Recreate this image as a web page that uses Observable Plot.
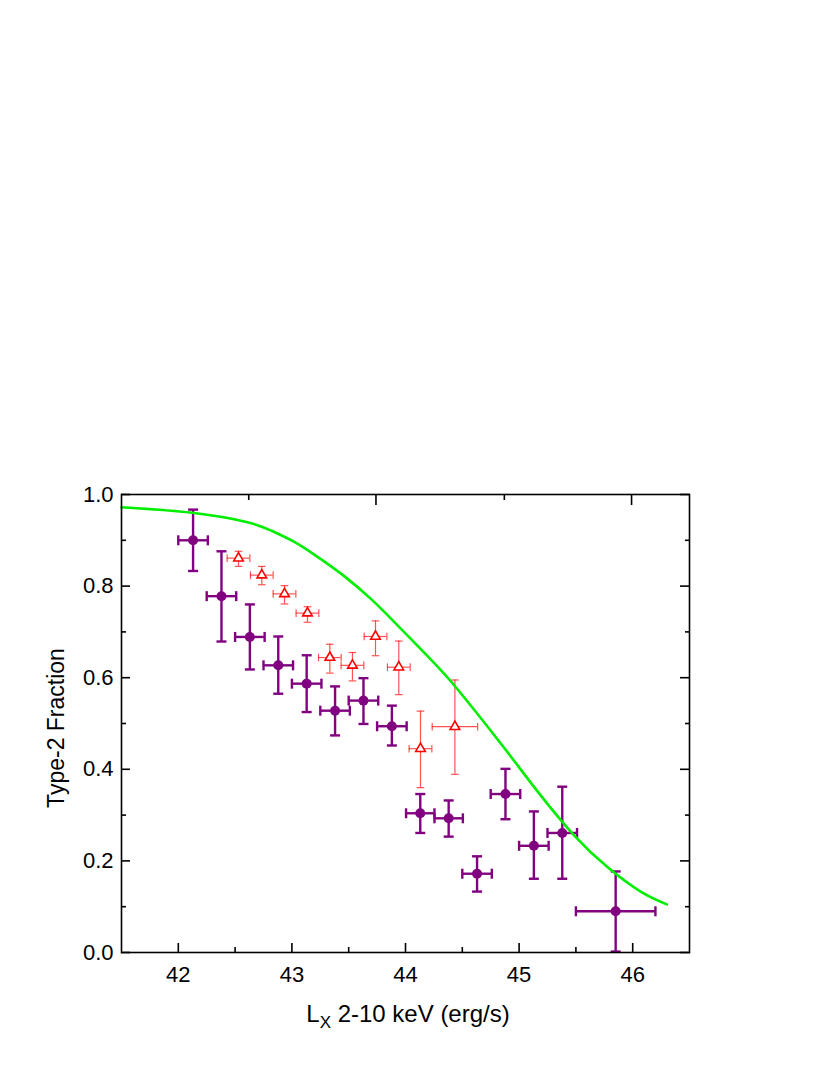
<!DOCTYPE html>
<html>
<head>
<meta charset="utf-8">
<script src="https://cdn.jsdelivr.net/npm/d3@7"></script>
<script src="https://cdn.jsdelivr.net/npm/@observablehq/plot@0.6"></script>
<style>
  html, body { margin: 0; padding: 0; background: #ffffff; }
  #chart svg { display: block; }
</style>
</head>
<body>
<div id="chart"></div>
<script>
// ---- Data ----
// Purple filled circles
const purpleX    = [42.13, 42.38, 42.63, 42.88, 43.13, 43.38, 43.63, 43.88, 44.13, 44.38, 44.63, 44.88, 45.13, 45.38, 45.85];
const purpleY    = [0.900, 0.778, 0.689, 0.627, 0.587, 0.528, 0.550, 0.494, 0.304, 0.293, 0.172, 0.346, 0.233, 0.261, 0.090];
const purpleYLo  = [0.833, 0.679, 0.618, 0.565, 0.525, 0.474, 0.499, 0.452, 0.261, 0.253, 0.133, 0.291, 0.161, 0.161, 0.002];
const purpleYHi  = [0.967, 0.876, 0.760, 0.690, 0.649, 0.581, 0.599, 0.539, 0.346, 0.332, 0.210, 0.401, 0.308, 0.362, 0.177];
const purpleXErr = [0.13, 0.13, 0.13, 0.13, 0.13, 0.13, 0.13, 0.13, 0.125, 0.125, 0.13, 0.13, 0.13, 0.13, 0.35];

// Red open triangles
const redX    = [42.53, 42.735, 42.935, 43.137, 43.334, 43.533, 43.736, 43.941, 44.132, 44.435];
const redY    = [0.861, 0.824, 0.783, 0.741, 0.644, 0.627, 0.690, 0.623, 0.445, 0.493];
const redYLo  = [0.843, 0.803, 0.761, 0.721, 0.610, 0.593, 0.648, 0.563, 0.360, 0.389];
const redYHi  = [0.876, 0.843, 0.801, 0.755, 0.673, 0.655, 0.724, 0.680, 0.527, 0.595];
const redXErr = [0.10, 0.10, 0.10, 0.10, 0.10, 0.10, 0.10, 0.10, 0.10, 0.20];

// Green model curve
const curveX = [41.5, 42.12, 42.6, 42.82, 43.04, 43.26, 43.48, 43.7, 43.9, 44.19, 44.43, 44.78, 45.01, 45.19, 45.48, 45.78, 46.07, 46.3];
const curveY = [0.972, 0.960, 0.940, 0.921, 0.894, 0.858, 0.818, 0.771, 0.722, 0.648, 0.583, 0.475, 0.401, 0.343, 0.257, 0.186, 0.133, 0.105];

// Axis ticks
const xDomain = [41.5, 46.5];
const yDomain = [0, 1];
const xMajorTicks = [42, 43, 44, 45, 46];
const xMinorTicks = [42.5, 43.5, 44.5, 45.5];
const topMajorTicks = [43.74, 45.99];
const topMinorTicks = [42.62, 44.87];
const yMajorTicks = [0, 0.2, 0.4, 0.6, 0.8, 1.0];
const yMinorTicks = [0.1, 0.3, 0.5, 0.7, 0.9];

const xTitleMain = "L";
const xTitleSub = "X";
const xTitleRest = " 2-10 keV (erg/s)";
const yTitle = "Type-2 Fraction";

// ---- Build tables ----
const purple = purpleX.map((x, i) => ({x, y: purpleY[i], ylo: purpleYLo[i], yhi: purpleYHi[i], xlo: x - purpleXErr[i], xhi: x + purpleXErr[i]}));
const red = redX.map((x, i) => ({x, y: redY[i], ylo: redYLo[i], yhi: redYHi[i], xlo: x - redXErr[i], xhi: x + redXErr[i]}));
const curve = curveX.map((x, i) => ({x, y: curveY[i]}));

// custom symbols
const hCap = {draw(ctx, size) { const r = Math.sqrt(size / Math.PI); ctx.moveTo(-r, 0); ctx.lineTo(r, 0); }};
const vCap = {draw(ctx, size) { const r = Math.sqrt(size / Math.PI); ctx.moveTo(0, -r); ctx.lineTo(0, r); }};
const tri = {draw(ctx, size) {
  const r = Math.sqrt(size / Math.PI);
  const h = r * Math.sqrt(3);
  ctx.moveTo(0, -2 * h / 3);
  ctx.lineTo(r, h / 3);
  ctx.lineTo(-r, h / 3);
  ctx.closePath();
}};

const PURPLE = "#800080";
const RED = "#ff1a1a";
const GREEN = "#00ee00";
const FONT = "'Liberation Sans', Arial, Helvetica, sans-serif";

const W = 830, H = 1075;
const mL = 121, mR = 141, mT = 494, mB = 123;

const chart = Plot.plot({
  width: W,
  height: H,
  marginLeft: mL,
  marginRight: mR,
  marginTop: mT,
  marginBottom: mB,
  style: {fontFamily: FONT, fontSize: "22px", color: "black", background: "white"},
  x: {domain: xDomain},
  y: {domain: yDomain},
  marks: [
    // red error bars
    Plot.ruleX(red, {x: "x", y1: "ylo", y2: "yhi", stroke: RED, strokeWidth: 1.2, strokeOpacity: 0.75}),
    Plot.ruleY(red, {y: "y", x1: "xlo", x2: "xhi", stroke: RED, strokeWidth: 1.2, strokeOpacity: 0.75}),
    Plot.dot(red, {x: "x", y: "ylo", symbol: hCap, r: 3.8, fill: "none", stroke: RED, strokeWidth: 1.2, strokeOpacity: 0.75}),
    Plot.dot(red, {x: "x", y: "yhi", symbol: hCap, r: 3.8, fill: "none", stroke: RED, strokeWidth: 1.2, strokeOpacity: 0.75}),
    Plot.dot(red, {x: "xlo", y: "y", symbol: vCap, r: 3.8, fill: "none", stroke: RED, strokeWidth: 1.2, strokeOpacity: 0.75}),
    Plot.dot(red, {x: "xhi", y: "y", symbol: vCap, r: 3.8, fill: "none", stroke: RED, strokeWidth: 1.2, strokeOpacity: 0.75}),
    Plot.dot(red, {x: "x", y: "y", symbol: tri, r: 4.8, fill: "white", stroke: "#ff0000", strokeWidth: 1.6}),
    // purple error bars
    Plot.ruleX(purple, {x: "x", y1: "ylo", y2: "yhi", stroke: PURPLE, strokeWidth: 2.4}),
    Plot.ruleY(purple, {y: "y", x1: "xlo", x2: "xhi", stroke: PURPLE, strokeWidth: 2.4}),
    Plot.dot(purple, {x: "x", y: "ylo", symbol: hCap, r: 5, fill: "none", stroke: PURPLE, strokeWidth: 2.4}),
    Plot.dot(purple, {x: "x", y: "yhi", symbol: hCap, r: 5, fill: "none", stroke: PURPLE, strokeWidth: 2.4}),
    Plot.dot(purple, {x: "xlo", y: "y", symbol: vCap, r: 5, fill: "none", stroke: PURPLE, strokeWidth: 2.4}),
    Plot.dot(purple, {x: "xhi", y: "y", symbol: vCap, r: 5, fill: "none", stroke: PURPLE, strokeWidth: 2.4}),
    Plot.dot(purple, {x: "x", y: "y", r: 5, fill: PURPLE, stroke: "none"}),
    // green curve
    Plot.line(curve, {x: "x", y: "y", stroke: GREEN, strokeWidth: 2.6, curve: "natural"}),
    // axes: labels
    Plot.axisX(xMajorTicks, {anchor: "bottom", tickSize: 0, tickPadding: 14, label: null, fontSize: 22, tickFormat: d3.format("d")}),
    Plot.axisY(yMajorTicks, {anchor: "left", tickSize: 0, tickPadding: 8, label: null, fontSize: 22, tickFormat: d3.format(".1f")}),
    // axes: inward ticks
    Plot.axisX(xMajorTicks, {anchor: "bottom", tickSize: -9, tickFormat: () => "", label: null, strokeWidth: 1.6}),
    Plot.axisX(xMinorTicks, {anchor: "bottom", tickSize: -5, tickFormat: () => "", label: null, strokeWidth: 1.6}),
    Plot.axisX(topMajorTicks, {anchor: "top", tickSize: -10, tickFormat: () => "", label: null, strokeWidth: 1.6}),
    Plot.axisX(topMinorTicks, {anchor: "top", tickSize: -5, tickFormat: () => "", label: null, strokeWidth: 1.6}),
    Plot.axisY(yMajorTicks, {anchor: "left", tickSize: -9, tickFormat: () => "", label: null, strokeWidth: 1.6}),
    Plot.axisY(yMinorTicks, {anchor: "left", tickSize: -5, tickFormat: () => "", label: null, strokeWidth: 1.6}),
    Plot.axisY(yMajorTicks, {anchor: "right", tickSize: -10, tickFormat: () => "", label: null, strokeWidth: 1.6}),
    Plot.axisY(yMinorTicks, {anchor: "right", tickSize: -5, tickFormat: () => "", label: null, strokeWidth: 1.6}),
    Plot.frame({stroke: "black", strokeWidth: 1.6})
  ]
});

document.getElementById("chart").appendChild(chart);

// axis titles (with subscript)
const svg = d3.select(chart);
const xt = svg.append("text")
  .attr("x", (mL + (W - mR)) / 2 + 3)
  .attr("y", H - 53)
  .attr("text-anchor", "middle")
  .attr("font-family", FONT)
  .attr("font-size", 24)
  .attr("fill", "black");
xt.append("tspan").text(xTitleMain);
xt.append("tspan").attr("font-size", 17).attr("dy", 6).text(xTitleSub);
xt.append("tspan").attr("dy", -6).text(xTitleRest);

svg.append("text")
  .attr("transform", `translate(${mL - 57},${(mT + (H - mB)) / 2 + 5}) rotate(-90)`)
  .attr("text-anchor", "middle")
  .attr("font-family", FONT)
  .attr("font-size", 23)
  .attr("fill", "black")
  .text(yTitle);
</script>
</body>
</html>
